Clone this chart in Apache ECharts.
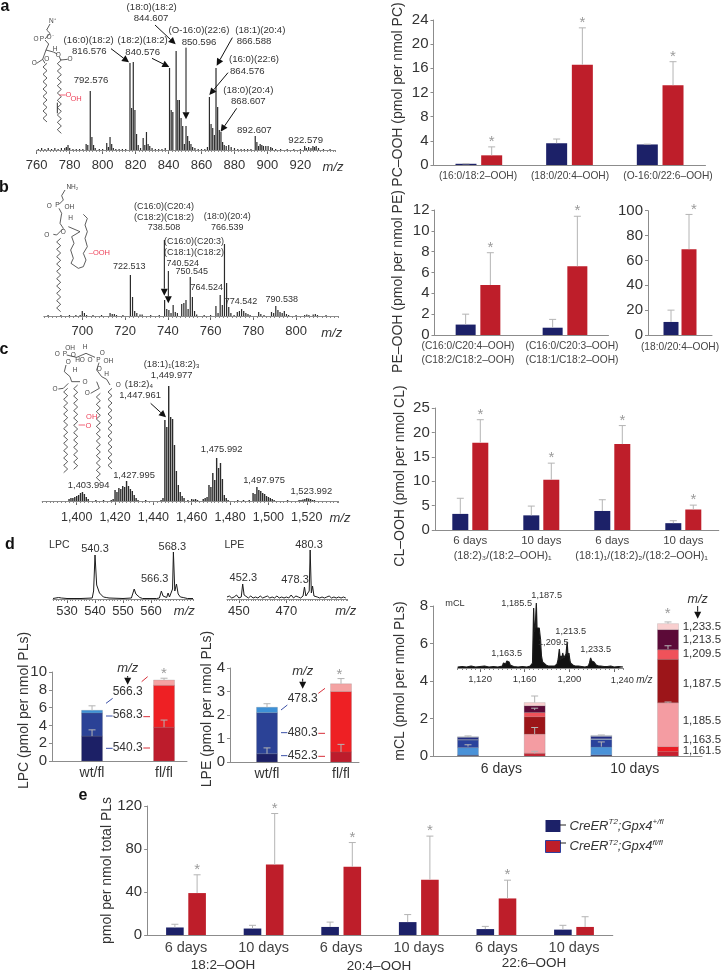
<!DOCTYPE html>
<html><head><meta charset="utf-8">
<style>html,body{margin:0;padding:0;background:#fff}#c{width:723px;height:971px}</style>
<script src="https://cdn.jsdelivr.net/npm/echarts@6/dist/echarts.min.js"></script>
</head><body><div id="c"></div>
<script>
// ---------- DATA ----------
const specA=[[761,1],[763,2],[765,1],[767,2],[769,1],[771,2],[773,1],[775,2],[777,2],[778,3],[779,5],[780,2],[782,1],[784,1],[786,1],[788,1],[790,6],[791,5],[792.5,59],[793.5,13],[794.5,5],[795.5,2],[798,1],[800,1],[802.5,7],[803.5,3],[804.5,13],[805.5,6],[806.5,2],[808,1],[810,1],[812,1],[814,1],[816.6,87],[817.6,42],[818.6,88],[819.6,40],[820.6,16],[821.6,5],[823,2],[824.6,12],[825.6,5],[826.6,18],[827.6,6],[828.6,4],[830,2],[832,1],[834,1],[836,1],[838,2],[840.6,82],[841.6,40],[842.6,38],[844.6,99],[845.6,50],[846.6,50],[847.6,32],[848.6,24],[849.6,6],[850.6,24],[851.6,14],[852.6,9],[853.6,6],[854.6,3],[856,2],[858,1],[860,1],[862,1],[863.6,3],[864.8,53],[865.8,26],[866.8,22],[867.8,15],[868.8,82],[869.8,43],[870.8,20],[871.8,18],[872.8,8],[873.8,5],[875,4],[876.5,5],[878,3],[880,2],[882,1],[884,1],[886,1],[888,1],[890,1],[892.6,14],[893.6,8],[894.6,4],[895.6,6],[896.6,5],[897.6,4],[899,4],[900.4,4],[902,3],[903,2],[905,1],[908,1],[912,1],[916,1],[920,1],[922.6,4],[923.6,2],[925,3],[926.4,2],[927.6,4],[928.6,3],[929.6,4],[931,2],[934,1],[938,1]];
const specB=[[684,1],[690,1],[694,1],[697,1],[699,1],[700,5],[701,3],[702,1],[705,1],[709,1],[713,3],[714,2],[715,2],[716,1],[719,1],[722.5,41],[723.5,19],[724.5,5],[725.5,3],[727,1.5],[728,1.5],[732,1],[736,1],[738.5,16],[739.5,7],[740.5,6],[741.5,3],[742.5,11],[743.5,4],[744.5,3],[746.5,12],[747.5,13],[748.5,16],[749.5,7],[750.5,39],[751.5,19],[752.5,5],[753.5,1.5],[757,1],[760,1],[762.5,10],[763.5,3],[764.5,21],[765.5,11],[766.5,72],[767.5,33],[768.5,9],[769.5,3],[771,1],[772.5,4],[773.5,5],[774.5,7],[775.5,5],[776.5,3],[777.5,2],[778.5,1],[782.5,4],[783.5,2],[785,1],[788.5,4],[789.5,3],[790.5,10],[791.5,6],[792.5,4],[793.5,3],[794.5,5],[795.5,2],[796.5,1],[800,1],[804,1],[805,1.5],[806,1],[808,1.5],[809,2],[810,1],[814,1]];
const specC=[[1396,2],[1397,3],[1398,3],[1399,4],[1400,5],[1401,6],[1402,8],[1403,9],[1404,7],[1405,4],[1406,2],[1410,1],[1414,1],[1418,1],[1419,2],[1420,11],[1421,9],[1422,13],[1423,12],[1424,15],[1425,14],[1426,20],[1427,15],[1428,12],[1429,10],[1430,6],[1431,3],[1432,1],[1436,1],[1444,1],[1445,3],[1446,81],[1447,74],[1448,115],[1449,84],[1450,82],[1451,56],[1452,30],[1453,16],[1454,9],[1455,5],[1456,3],[1458,1],[1460,2],[1461,1.5],[1462,2],[1463,1],[1466,2],[1467,3],[1468,4],[1469,16],[1470,14],[1471,28],[1472,21],[1473,43],[1474,33],[1475,38],[1476,22],[1477,6],[1478,3],[1479,1],[1484,1],[1487,1],[1490,1],[1492,8],[1493,7],[1494,14],[1495,11],[1496,10],[1497,8],[1498,7],[1499,5],[1500,4],[1501,3],[1502,2],[1503,1],[1510,1],[1516,1],[1517,1],[1518,1.5],[1519,2],[1520,3],[1521,2.5],[1522,2],[1523,1],[1524,1]];
const specLPC=[[525,0.5],[527,1.5],[528,1],[530,0.5],[535,0.5],[539,1],[539.5,8],[540,44],[540.6,14],[541,13],[541.6,6],[543,2],[544,1.5],[545,1],[550,0.5],[553,1],[553.5,3],[554,10],[554.6,5],[555.2,3],[556,1.5],[557,0.5],[562,0.5],[563,1],[563.7,8],[564.3,3],[565,1.5],[565.6,1.5],[566.1,6],[566.6,2],[567.3,1.5],[567.7,10],[568,47],[568.5,8],[569.1,15],[569.7,5],[570.5,2],[571.5,1.5],[573,0.5],[575,0.5]];
const specLPE=[[445,2],[446,3],[447,1],[448,2],[449,4],[450,1],[451,2],[451.6,15],[452.2,4],[453,2],[454,1],[455,3],[456,1],[457,2],[458,1],[459,3],[460,1],[461,2],[462,3],[463,1],[464,2],[465,1],[466,3],[467,1],[468,2],[469,1],[470,2],[471,1],[472,4],[473,1],[474,3],[475,2],[476,1],[477,3],[477.6,12],[478.2,3],[479,2],[479.6,8],[480,49],[480.5,6],[481,13],[481.6,3],[483,2],[484,1],[485,2],[486,1],[487,2],[488,3],[489,1],[490,2],[491,1],[492,2],[493,1],[494,2],[495,1]];
const specCL=[[1100,1],[1104,1.5],[1108,1],[1112,2],[1116,1],[1120,1.5],[1124,2],[1128,1],[1132,1.5],[1136,1],[1140,2],[1141,5],[1142,7],[1143,4],[1144,7],[1145,5],[1146,6],[1147,3],[1148,2],[1150,1.5],[1154,1],[1158,1.5],[1162,1],[1165,2],[1167,5],[1168,60],[1168.7,36],[1169.5,42],[1170.4,65],[1171,40],[1172,38],[1173,40],[1174,30],[1175,12],[1176,6],[1177,4],[1179,3],[1181,2],[1184,2],[1187,2],[1189,4],[1190,9],[1191,19],[1191.8,8],[1192.6,12],[1193.4,9],[1194,15],[1195,10],[1196,12],[1197,14],[1198,26],[1198.8,12],[1199.6,15],[1200.4,8],[1201,5],[1203,3],[1205,2],[1208,2],[1211,1.5],[1214,1],[1217,2],[1218,5],[1219,10],[1220,7],[1221,9],[1222,6],[1223,5],[1224,3],[1226,2],[1228,2],[1231,1.5],[1234,1.5],[1237,2],[1240,1],[1244,1.5],[1248,1]];

const pcCats=['(16:0/18:2–OOH)','(18:0/20:4–OOH)','(O-16:0/22:6–OOH)'];
const pcBlue=[0.2,3.6,3.4], pcBlueTop=[0.2,4.3,3.45], pcRed=[1.6,16.6,13.2], pcRedTop=[3,22.7,17.1], pcStar=[1,1,1];
const pe1Cats=['(C16:0/C20:4–OOH)\n(C18:2/C18:2–OOH)','(C16:0/C20:3–OOH)\n(C18:1/C18:2–OOH)'];
const pe1Blue=[1,0.7], pe1BlueTop=[2,1.5], pe1Red=[4.8,6.6], pe1RedTop=[7.9,11.4], pe1Star=[1,1];
const pe2Cats=['(18:0/20:4–OOH)'];
const pe2Blue=[10.5], pe2BlueTop=[20], pe2Red=[69], pe2RedTop=[97], pe2Star=[1];
const clCats=['6 days','10 days','6 days','10 days'];
const clBlue=[3.3,3.0,3.9,1.4], clBlueTop=[6.5,4.9,6.2,1.9], clRed=[17.9,10.3,17.6,4.2], clRedTop=[22.6,13.7,21.4,5.1], clStar=[1,1,1,1];
const eCats=['6 days','10 days','6 days','10 days','6 days','10 days'];
const eBlue=[7,6,7.5,12,5.5,5], eBlueTop=[10,9,12,19,8,9], eRed=[39,65.5,63.5,51.5,34,7.5], eRedTop=[56,113,86,92,51,17], eStar=[1,1,1,1,1,0];

const groupCats=['wt/fl','fl/fl'];
const lpcSegs=[[2.8,3.8],[2.6,4.7],[0.3,0.6]];
const lpeSegs=[[0.35,0.43],[1.75,2.57],[0.23,0.33]];
const mclCats=['6 days','10 days'];
const mclSegs=[[0.04,0.12,0.05,0.23],[0.01,0.03,0.01,0.27],[0.4,1.02,0.42,2.34],[0.4,0.92,0.4,2.32],[0.03,0.23,0.04,0.51],[0.12,0.36,0.13,1.07],[0.03,0.17,0.05,0.32]];
// error whiskers: [bar number, from, to]
const lpcErr=[[1,2.8,3.5],[1,5.7,6.2],[2,3.8,4.6],[2,9.1,9.3]];
const lpeErr=[[1,0.35,0.6],[1,2.33,2.48],[2,0.43,0.75],[2,3.33,3.55]];
const mclErr=[[1,0.5,0.6],[1,1.03,1.07],[2,1.17,1.52],[2,2.45,2.55],[2,2.85,3.2],[2,0.14,0.25],[3,0.5,0.75],[3,1.1,1.12],[4,5.7,5.88],[4,7.06,7.15],[4,2.84,2.88]];

// ---------- STYLE ----------
const F='"Liberation Sans",Arial,sans-serif', INK='#333', AX='#8c8c8c', ERR='#b4b4b4', STAR='#9a9a9a';
const BLUE='#1c2168', RED='#be1e2a', PINK='#ee4058';
const lpcColors=[['#1c2066','#bd1c2c'],['#2b4296','#ee2024'],['#3d90d6','#f4a3a3']];
const mclColors=[['#1c2060','#c8202f','#1c2060','#c8202f'],['#2a3f9a','#ed1c24','#2a3f9a','#ed1c24'],['#4a92d8','#f49ca2','#4a92d8','#f49ca2'],['#2a429c','#9c1519','#2a429c','#9c1519'],['#8fb5e5','#f0525a','#8fb5e5','#f0525a'],['#222c84','#5c0a38','#222c84','#5c0a38'],['#c8d3e0','#f9cfcf','#c8d3e0','#f9cfcf']];

const grid=[],xAxis=[],yAxis=[],series=[],graphic=[];
function addGrid(l,t,r,b){grid.push({left:l,top:t,width:r-l,height:b-t,containLabel:false});return grid.length-1;}
function axisBase(){return {axisLine:{show:true,lineStyle:{color:AX,width:1}},splitLine:{show:false},minorSplitLine:{show:false}};}

function spectrum(o){
  const g=addGrid(o.x0,o.base-o.h,o.x1,o.base);
  const xi=xAxis.length;
  xAxis.push(Object.assign(axisBase(),{type:'value',gridIndex:g,min:o.min,max:o.max,
    axisTick:{show:true,length:4,customValues:o.majors,lineStyle:{color:'#666'}},
    axisLabel:{customValues:o.labels||o.majors,fontFamily:F,fontSize:o.fs,color:INK,margin:o.margin,formatter:o.fmt||(v=>String(v))}}));
  xAxis.push({type:'value',gridIndex:g,min:o.min,max:o.max,interval:o.minor,position:'bottom',axisLine:{show:false},axisLabel:{show:false},splitLine:{show:false},axisTick:{show:true,length:2,lineStyle:{color:'#888'}}});
  yAxis.push({type:'value',gridIndex:g,min:0,max:o.h,show:false});
  const yi=yAxis.length-1;
  if(o.line) series.push({type:'line',xAxisIndex:xi,yAxisIndex:yi,data:o.data,showSymbol:false,silent:true,lineStyle:{color:'#1c1c1c',width:o.lw||1},areaStyle:o.fill?{color:'#111',opacity:1}:undefined});
  else series.push({type:'bar',xAxisIndex:xi,yAxisIndex:yi,data:o.data,barWidth:o.bw||1,silent:true,itemStyle:{color:'#2b2b2b'}});
}
function whisker(xi,yi,rows,offset,stars,star){
  series.push({type:'custom',xAxisIndex:xi,yAxisIndex:yi,clip:false,silent:true,z:5,
    encode:{x:0,y:[1,2]},data:rows,
    renderItem:(p,api)=>{
      const a=api.coord([api.value(0),api.value(1)]),b=api.coord([api.value(0),api.value(2)]);
      const x=a[0]+offset,style={stroke:ERR,lineWidth:1,fill:null};
      const ch=[{type:'line',shape:{x1:x,y1:a[1],x2:x,y2:b[1]},style},
        {type:'line',shape:{x1:x-3.5,y1:b[1],x2:x+3.5,y2:b[1]},style}];
      if(stars&&stars[p.dataIndex]) ch.push({type:'text',x:x+(star&&star.dx||0),y:b[1]-5,style:{text:'*',fill:STAR,fontFamily:F,fontSize:15,align:'center',verticalAlign:'middle'}});
      return {type:'group',children:ch};
    }});
}
function paired(o){
  const g=addGrid(o.x0,o.top,o.x1,o.base);
  xAxis.push(Object.assign(axisBase(),{type:'category',gridIndex:g,data:o.cats,axisTick:{show:false},
    axisLabel:{show:!o.catAt,interval:0,fontFamily:F,fontSize:o.catFs,color:'#444',margin:o.catMargin,hideOverlap:false}}));
  yAxis.push(Object.assign(axisBase(),{type:'value',gridIndex:g,min:0,max:o.max,interval:o.interval,
    axisTick:{show:true,length:3,lineStyle:{color:AX}},axisLabel:{fontFamily:F,fontSize:15,color:INK,margin:5},
    name:o.name,nameLocation:'middle',nameGap:o.gap,nameMoveOverlap:false,nameTextStyle:{fontFamily:F,fontSize:14,color:INK,padding:o.namePad||0}}));
  const xi=xAxis.length-1,yi=yAxis.length-1,d=o.offset/2;
  series.push({name:o.blueName||'b'+xi,type:'bar',xAxisIndex:xi,yAxisIndex:yi,data:o.blue,barWidth:o.bw,barGap:((o.offset-o.bw)/o.bw*100)+'%',silent:true,itemStyle:{color:BLUE}});
  series.push({name:o.redName||'r'+xi,type:'bar',xAxisIndex:xi,yAxisIndex:yi,data:o.red,barWidth:o.bw,silent:true,itemStyle:{color:RED}});
  whisker(xi,yi,o.blue.map((v,i)=>[i,v,o.blueTop[i]]),-d);
  whisker(xi,yi,o.red.map((v,i)=>[i,v,o.redTop[i]]),d,o.stars,o.star);
  if(o.catAt) o.cats.forEach((c,i)=>c.split('\n').forEach((line,j)=>graphic.push({type:'text',x:o.catAt[i],y:o.catY+j*14,z:20,silent:true,style:{text:line,fontFamily:F,fontSize:o.catFs,fill:'#444',align:'center',verticalAlign:'middle'}})));
}
function stacked(o){
  const g=addGrid(o.x0,o.top,o.x1,o.base);
  xAxis.push(Object.assign(axisBase(),{type:'value',gridIndex:g,min:o.min,max:o.xmax,axisTick:{show:false},
    axisLabel:{customValues:o.labelAt,fontFamily:F,fontSize:14,color:INK,margin:o.margin||5,formatter:v=>o.cats[o.labelAt.indexOf(v)]||''}}));
  yAxis.push(Object.assign(axisBase(),{type:'value',gridIndex:g,min:0,max:o.max,interval:o.interval,
    axisTick:{show:true,length:3,lineStyle:{color:AX}},axisLabel:{fontFamily:F,fontSize:15,color:INK,margin:5},
    name:o.name,nameLocation:'middle',nameGap:o.gap,nameMoveOverlap:false,nameTextStyle:{fontFamily:F,fontSize:14,color:INK,padding:o.namePad||0}}));
  const xi=xAxis.length-1,yi=yAxis.length-1;
  const cum=o.segs[0].map(()=>0);
  o.segs.forEach((seg,s)=>{
    const rows=seg.map((v,i)=>{const r=[i+1,cum[i],cum[i]+v];cum[i]+=v;return r;});
    series.push({type:'custom',xAxisIndex:xi,yAxisIndex:yi,silent:true,clip:false,z:2,encode:{x:0,y:[1,2]},data:rows,
      renderItem:(p,api)=>{
        const a=api.coord([api.value(0),api.value(1)]),b=api.coord([api.value(0),api.value(2)]);
        return {type:'rect',shape:{x:a[0]-o.bw/2,y:b[1],width:o.bw,height:a[1]-b[1]},
          style:{fill:o.colors[s][p.dataIndex],stroke:'rgba(120,120,120,.4)',lineWidth:0.5}};
      }});
  });
  whisker(xi,yi,o.err,0);
}

// ---------- SPECTRA ----------
spectrum({data:specA,x0:36.7,x1:335,base:150,h:110,min:760,max:941,minor:2,majors:[760,780,800,820,840,860,880,900,920],fs:13,margin:9,bw:1.2});
spectrum({data:specB,x0:43.8,x1:338,base:316,h:85,min:682,max:819.6,minor:2,majors:[700,720,740,760,780,800],fs:13,margin:9,bw:1.2});
const thou=v=>String(v).replace(/(\d)(\d{3})$/,'$1,$2');
spectrum({data:specC,x0:42.2,x1:338,base:501,h:125,min:1382,max:1536.3,minor:2,majors:[1400,1420,1440,1460,1480,1500,1520],fmt:thou,fs:12.5,margin:10,bw:1.4});
spectrum({data:specLPC,line:true,x0:53,x1:193,base:599,h:60,min:525,max:575,minor:1,majors:[530,540,550,560],fs:13,margin:6});
spectrum({data:specLPE,line:true,x0:227,x1:347,base:599,h:60,min:445,max:495.5,minor:1,majors:[450,470],fs:13,margin:6});

// ---------- BAR PANELS ----------
paired({x0:433.5,x1:705.5,top:20,base:165,cats:pcCats,catAt:[478,570,668],catY:176,blue:pcBlue,blueTop:pcBlueTop,red:pcRed,redTop:pcRedTop,stars:pcStar,max:24,interval:4,bw:21,offset:25.7,catFs:10.2,name:'PC–OOH (pmol per nmol PC)',gap:28,namePad:[0,4,0,0]});
paired({x0:434.5,x1:608.5,top:210,base:335,cats:pe1Cats,catAt:[468,572],catY:346,blue:pe1Blue,blueTop:pe1BlueTop,red:pe1Red,redTop:pe1RedTop,stars:pe1Star,max:12,interval:2,bw:20,offset:24.7,catFs:10.2,name:'PE–OOH (pmol per nmol PE)',gap:29,namePad:[0,18,0,0]});
paired({x0:648,x1:712,top:210.7,base:335,cats:pe2Cats,catAt:[680],catY:347,blue:pe2Blue,blueTop:pe2BlueTop,red:pe2Red,redTop:pe2RedTop,stars:pe2Star,star:{dx:5},max:100,interval:20,bw:15,offset:18,catFs:10.2});
paired({x0:434.8,x1:718.8,top:408,base:530,cats:clCats,blue:clBlue,blueTop:clBlueTop,red:clRed,redTop:clRedTop,stars:clStar,max:25,interval:5,bw:16,offset:20,catFs:11.5,catMargin:5,name:'CL–OOH (pmol per nmol CL)',gap:28,namePad:[0,14,0,0]});
paired({x0:147.2,x1:612.8,top:806,base:935,cats:eCats,blue:eBlue,blueTop:eBlueTop,red:eRed,redTop:eRedTop,stars:eStar,max:120,interval:40,bw:17.6,offset:22.2,catFs:14.5,catMargin:5,name:'pmol per nmol total PLs',gap:33,blueName:'blueE',redName:'redE'});

stacked({x0:52,x1:187,top:672,base:761,min:0.444,xmax:2.319,labelAt:[1,2],cats:groupCats,segs:lpcSegs,colors:lpcColors,err:lpcErr,max:10,interval:2,bw:21,name:'LPC (pmol per nmol PLs)',gap:21,namePad:[0,0,0,12]});
stacked({x0:230,x1:359,top:668,base:762,min:0.5,xmax:2.243,labelAt:[1,2],cats:groupCats,segs:lpeSegs,colors:lpcColors,err:lpeErr,max:4,interval:1,bw:21,name:'LPE (pmol per nmol PLs)',gap:16,namePad:[0,0,0,12]});
stacked({x0:433,x1:702,top:606,base:756,min:0.475,xmax:4.51,labelAt:[1.5,3.5],cats:mclCats,segs:mclSegs,colors:mclColors,err:mclErr,max:8,interval:2,bw:21,margin:6,name:'mCL (pmol per nmol PLs)',gap:26});
// inset spectrum drawn over mCL plot
spectrum({data:specCL,line:true,fill:true,lw:1.2,x0:457.7,x1:623,base:668,h:68,min:1100,max:1248,minor:4,majors:[1120,1160,1200,1240],labels:[1120,1160,1200],fmt:thou,fs:9.5,margin:6});

// ---------- ANNOTATIONS (zoom-crop coordinates, converted below) ----------
const txt=(text,x,y,o={})=>graphic.push({type:'text',x,y,z:20,silent:true,style:Object.assign({text,fontFamily:F,fontSize:10,fill:INK,align:'center',verticalAlign:'middle'},o)});
function arrow(x1,y1,x2,y2,head=7,col='#111'){
  const a=Math.atan2(y2-y1,x2-x1),w=head*0.5,bx=x2-Math.cos(a)*head,by=y2-Math.sin(a)*head,nx=-Math.sin(a)*w,ny=Math.cos(a)*w;
  graphic.push({type:'line',z:20,silent:true,shape:{x1,y1,x2:bx,y2:by},style:{stroke:col,lineWidth:1}});
  graphic.push({type:'polygon',z:20,silent:true,shape:{points:[[x2,y2],[bx+nx,by+ny],[bx-nx,by-ny]]},style:{fill:col}});
}
const poly=(pts,dy,col='#333',w=0.8)=>graphic.push({type:'polyline',z:19,silent:true,shape:{points:pts.map(p=>[p[0]/3,p[1]/3+dy])},style:{stroke:col,lineWidth:w,fill:null}});
function zig(x,y0,y1,dy,amp=6,step=11){const p=[];let s=1;for(let y=y0;y<=y1;y+=step){p.push([x+s*amp,y]);s=-s;}poly(p,dy);}
const put=(rows,dy,o)=>rows.forEach(r=>txt(r[0],r[1]/3,r[2]/3+dy,o));

[['a',5,7],['b',4,188],['c',4,350],['d',10,545],['e',83,796]].forEach(r=>txt(r[0],r[1],r[2],{fontSize:16,fontWeight:'bold',fill:'#111'}));

put([['(18:0)(18:2)',455,22],['844.607',453,55],['(16:0)(18:2)',266,120],['816.576',268,155],['(18:2)(18:2)',428,122],['840.576',428,158],['(O-16:0)(22:6)',597,92],['850.596',597,127],['(18:1)(20:4)',781,90],['866.588',762,125],['(16:0)(22:6)',762,178],['864.576',742,214],['(18:0)(20:4)',745,270],['868.607',745,303],['792.576',273,242],['892.607',763,390],['922.579',917,420]],0,{fontSize:9.6});
[[465,75,527,133],[333,146,387,187],[456,175,508,201],[558,143,558,358],[697,113,650,197],[684,218,628,285],[710,325,662,395]].forEach(a=>arrow(a[0]/3,a[1]/3,a[2]/3,a[3]/3));
txt('m/z',999/3,167,{fontSize:13,fontStyle:'italic'});

put([['(C16:0)(C20:4)',492,95],['(C18:2)(C18:2)',492,128],['738.508',492,158],['(18:0)(20:4)',682,125],['766.539',682,158],['(C16:0)(C20:3)',582,200],['(C18:1)(C18:2)',582,232],['740.524',548,265],['750.545',575,291],['764.524',620,337],['722.513',388,276],['774.542',723,381],['790.538',845,374]],175,{fontSize:9});
[[493,195,493,362],[505,288,505,385]].forEach(a=>arrow(a[0]/3,a[1]/3+175,a[2]/3,a[3]/3+175));
txt('m/z',995/3,333,{fontSize:13,fontStyle:'italic'});

put([['(18:1)₁(18:2)₃',515,73],['1,449.977',515,107],['(18:2)₄',417,133],['1,447.961',420,167],['1,475.992',665,328],['1,427.995',402,406],['1,403.994',266,437],['1,497.975',792,420],['1,523.992',934,453]],340,{fontSize:9.4});
arrow(452/3,190/3+340,498/3,232/3+340);
txt('m/z',1020/3,518,{fontSize:13,fontStyle:'italic'});

put([['LPC',178,75],['LPE',703,76]],520,{fontSize:10.5});
put([['540.3',285,87],['568.3',517,80],['566.3',464,178],['480.3',927,76],['452.3',730,175],['478.3',885,180]],520,{fontSize:11});
put([['m/z',553,275],['m/z',1037,275]],520,{fontSize:13,fontStyle:'italic'});

put([['566.3',383,515],['568.3',383,585],['540.3',383,682],['478.3',908,537],['480.3',908,637],['452.3',908,707]],520,{fontSize:12});
put([['m/z',383,445],['m/z',908,453]],520,{fontSize:13,fontStyle:'italic'});
arrow(383/3,520+468/3,383/3,520+494/3);arrow(908/3,520+476/3,908/3,520+506/3);
txt('*',492/3,520+462/3,{fontSize:15,fill:STAR});txt('*',1018/3,520+466/3,{fontSize:15,fill:STAR});
[[318,685,338,685,0],[318,588,338,588,0],[318,550,338,535,0],[843,707,862,707,0],[843,638,862,638,0],[843,570,862,555,0],
 [430,684,450,684,1],[430,590,450,590,1],[425,485,443,470,1],[955,709,975,709,1],[955,640,975,640,1],[955,520,975,505,1]].forEach(a=>poly([[a[0],a[1]],[a[2],a[3]]],520,a[4]?'#d8303a':'#3b50a8',1));

// mCL annotations
const cx=v=>v+365*3;
put([['1,233.5',953,110],['1,213.5',953,150],['1,209.5',953,192],['1,187.5',953,281],['1,185.5',953,393],['1,163.5',953,450],['1,161.5',953,481]].map(r=>[r[0],cx(r[1]),r[2]]),590,{fontSize:11.5,align:'left'});
put([['mCL',270,40],['1,187.5',545,17],['1,185.5',455,40],['1,209.5',565,158],['1,213.5',617,125],['1,163.5',425,190],['1,233.5',692,177],['1,240',772,272]].map(r=>[r[0],cx(r[1]),r[2]]),590,{fontSize:9.2});
txt('m/z',cx(838)/3,590+272/3,{fontSize:10,fontStyle:'italic'});
txt('m/z',cx(998)/3,600,{fontSize:12.5,fontStyle:'italic'});
arrow(cx(998)/3,590+48/3,cx(998)/3,590+86/3);
txt('*',cx(908)/3,590+71/3,{fontSize:15,fill:STAR});

// group labels under the bars
put([['(18:2)₃/(18:2–OOH)₁',413+1095,512],['(18:1)₁/(18:2)₂/(18:2–OOH)₁',830+1095,512]],385,{fontSize:10.8,fill:'#444'});
txt('18:2–OOH',223,965,{fontSize:13.5});txt('20:4–OOH',379,966,{fontSize:13.5});txt('22:6–OOH',534,963,{fontSize:13.5});
poly([[560*3,825*3],[566*3,825*3]],0,'#222',1);poly([[560*3,843*3],[566*3,843*3]],0,'#222',1);

// structures
const S={fontSize:6.5,fill:'#444'},R={fontSize:7.5,fill:PINK};
put([['N⁺',157,65],['O',108,117],['P',126,117],['O⁻',150,113],['O',103,190],['O',140,178],['H',165,148],['O',175,165],['O',210,178]],0,S);
put([['O',205,285],['OH',228,298]],0,R);
poly([[150,72],[140,90],[150,100],[135,117]],0);poly([[135,120],[146,132],[138,150],[160,156],[172,162]],0);poly([[138,150],[128,178],[110,190]],0);poly([[128,178],[135,190]],0);poly([[178,170],[182,180],[203,178]],0);
zig(135,190,372,0);zig(178,180,405,0);poly([[178,285],[197,285]],0,PINK);
poly([[172,308],[172,340]],0,'#333',1);

put([['NH₂',217,38],['O',148,93],['P',172,92],['OH',208,98],['H',212,130],['O',140,180],['O',190,172]],175,S);
put([['–OOH',298,233]],175,R);
poly([[195,45],[185,62],[190,75],[177,88]],175);poly([[177,100],[185,115],[180,145],[190,160],[170,180],[160,178]],175);poly([[205,155],[240,170],[215,185],[222,205],[212,225],[220,250],[213,265],[235,280],[250,275],[258,255],[250,235],[262,215],[255,190],[262,170],[255,150],[262,130],[250,118]],175);
zig(176,190,420,175);

put([['OH',210,25],['H',255,22],['O',172,43],['P',195,43],['O',220,45],['HO',240,60],['O',270,60],['P',295,60],['OH',325,65],['O',307,40],['H',225,90],['H',320,102],['O',205,68],['O',298,88],['O',165,148],['O',255,127],['O',262,160],['O',355,135]],340,S);
put([['OH',275,232],['O',265,258]],340,R);
poly([[200,45],[230,52],[258,40],[285,52]],340);poly([[297,68],[290,90],[305,110],[320,118],[330,135]],340);poly([[198,75],[193,95],[210,110],[215,125],[240,125]],340);poly([[205,130],[190,145],[175,147]],340);poly([[290,125],[298,145],[272,160]],340);
zig(197,145,405,340);zig(227,135,395,340);zig(295,160,425,340);zig(330,145,395,340);poly([[236,255],[255,255]],340,PINK);

// ---------- CHART ----------
const chart=echarts.init(document.getElementById('c'),null,{renderer:'canvas'});
chart.setOption({animation:false,backgroundColor:'#fff',grid,xAxis,yAxis,series,graphic:{elements:graphic},
  legend:{show:true,left:545,top:818,padding:0,orient:'vertical',icon:'rect',itemWidth:15,itemHeight:12,itemGap:6,selectedMode:false,
    data:[{name:'blueE',itemStyle:{color:BLUE}},{name:'redE',itemStyle:{color:RED,borderColor:'#2f3f9e',borderWidth:1}}],
    formatter:n=>n==='blueE'?'{i|CreER}{s|T2}{i|;Gpx4}{s|+/fl}':'{i|CreER}{s|T2}{i|;Gpx4}{s|fl/fl}',
    textStyle:{fontFamily:F,padding:[0,0,0,4],rich:{i:{fontFamily:F,fontStyle:'italic',fontSize:13,color:INK,lineHeight:16},s:{fontFamily:F,fontStyle:'italic',fontSize:8,color:INK,verticalAlign:'top',lineHeight:16}}}}
});
</script></body></html>
